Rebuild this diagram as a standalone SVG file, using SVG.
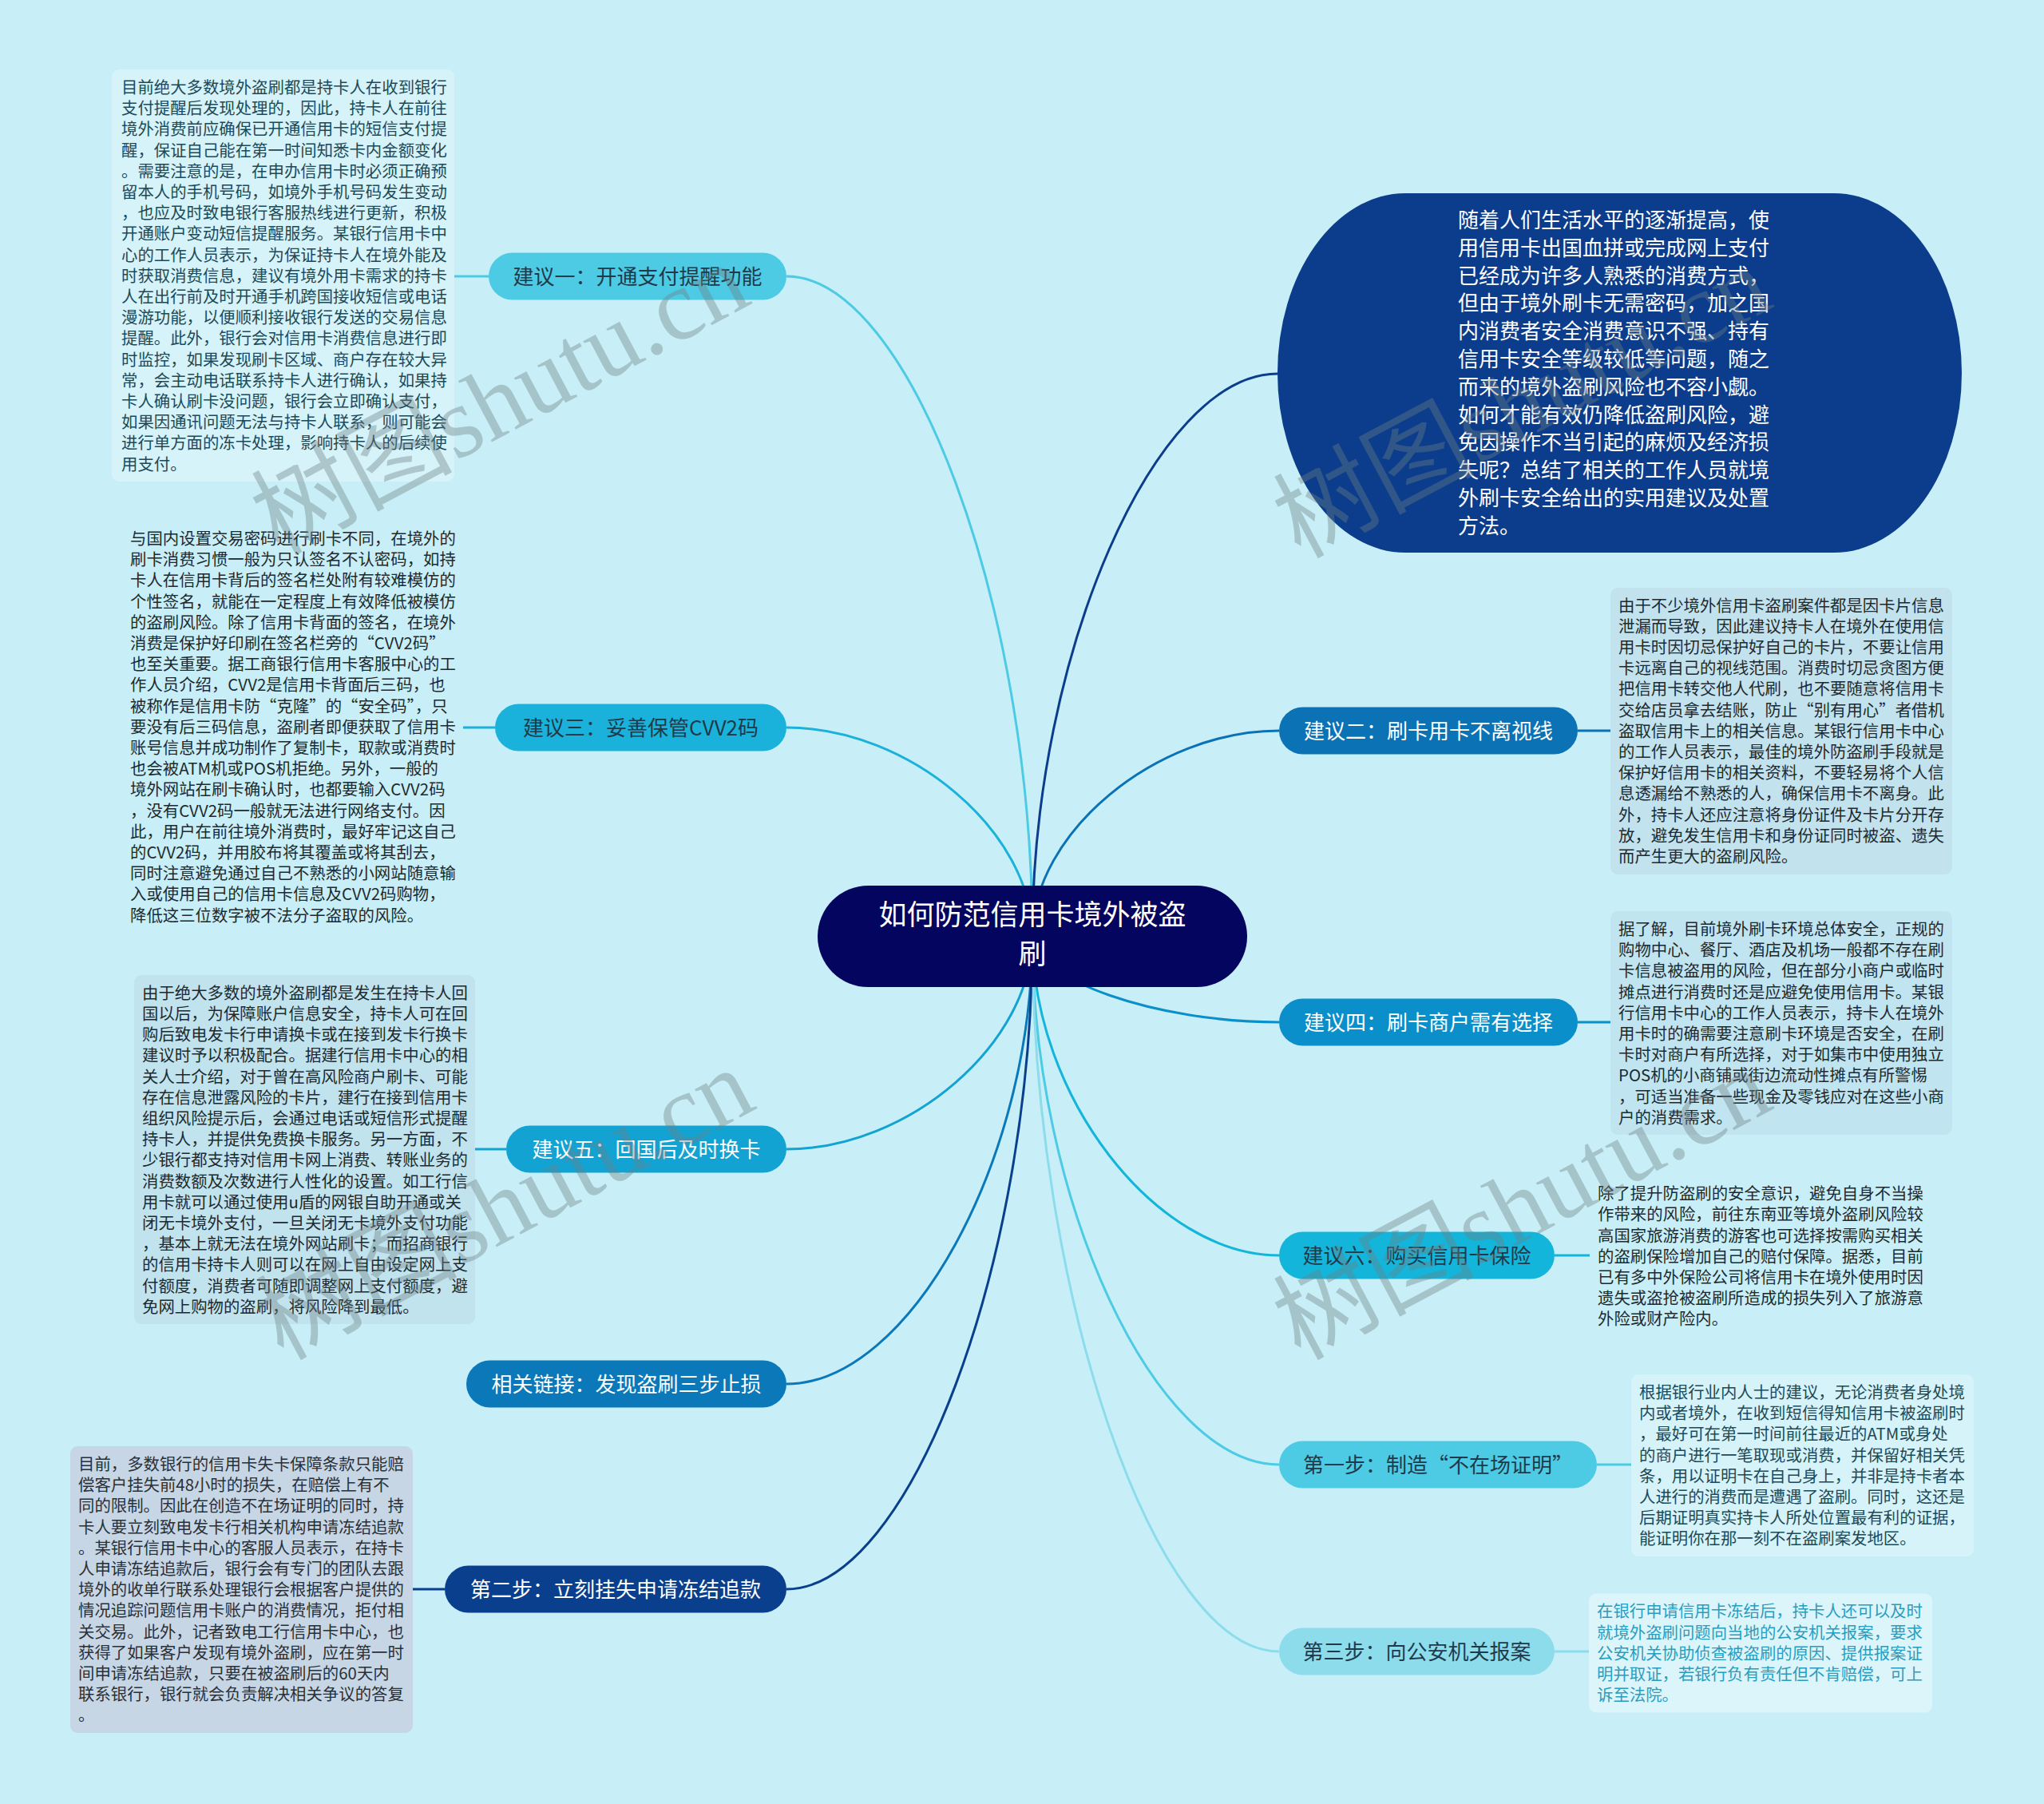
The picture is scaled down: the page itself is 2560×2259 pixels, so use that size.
<svg xmlns="http://www.w3.org/2000/svg" width="2560" height="2259" viewBox="0 0 2560 2259">
<style>
.t{font-family:"Noto Sans CJK SC","Noto Sans",sans-serif;}
.d{font-size:20.4px;}
.n{font-size:26px;text-anchor:middle;}
.dk{fill:#1f3a4a;}
.wh{fill:#ffffff;}
.c{fill:none;stroke-width:3;}
.s{fill:none;stroke-width:3;}
.wm{font-family:"Liberation Serif","Noto Sans CJK SC",serif;font-size:126px;fill:#6f7f84;opacity:0.38;}
</style>
<rect width="2560" height="2259" fill="#c8eff7"/>

<g id="connectors">
<path class="c" stroke="#4dcbe4" d="M1293,1172 C1293,759 1139,346 985,346"/>
<path class="c" stroke="#1ab2da" d="M1293,1172 C1293,1041.5 1139,911 985,911"/>
<path class="c" stroke="#13a3d3" d="M1293,1172 C1293,1305.5 1139,1439 985,1439"/>
<path class="c" stroke="#0b79b9" d="M1293,1172 C1293,1452.5 1139,1733 985,1733"/>
<path class="c" stroke="#0a3f8d" d="M1293,1172 C1293,1581 1139,1990 985,1990"/>
<path class="c" stroke="#0b3d8c" d="M1293,1172 C1293,820 1447,468 1600,468"/>
<path class="c" stroke="#0b72b6" d="M1293,1172 C1293,1043.5 1447,915 1602,915"/>
<path class="c" stroke="#0a8fca" d="M1293,1172 C1293,1226 1447,1280 1602,1280"/>
<path class="c" stroke="#14b5db" d="M1293,1172 C1293,1372 1447,1572 1602,1572"/>
<path class="c" stroke="#4dcbe4" d="M1293,1172 C1293,1503 1447,1834 1602,1834"/>
<path class="c" stroke="#8cdcec" d="M1293,1172 C1293,1620 1447,2068 1602,2068"/>
<path class="s" stroke="#4dcbe4" d="M569,346 H612"/>
<path class="s" stroke="#1ab2da" d="M580,911 H620"/>
<path class="s" stroke="#13a3d3" d="M595,1439 H634"/>
<path class="s" stroke="#0a3f8d" d="M517,1990 H557"/>
<path class="s" stroke="#0b72b6" d="M1976,915 H2017"/>
<path class="s" stroke="#0a8fca" d="M1976,1280 H2017"/>
<path class="s" stroke="#14b5db" d="M1947,1572 H1991"/>
<path class="s" stroke="#4dcbe4" d="M2000,1834 H2043"/>
<path class="s" stroke="#8cdcec" d="M1947,2068 H1990"/>
</g>

<g id="center">
<rect x="1024" y="1109" width="538" height="127" rx="63.5" fill="#03055e"/>
<text class="t wh" font-size="35" text-anchor="middle"><tspan x="1293" y="1158">如何防范信用卡境外被盗</tspan><tspan x="1293" y="1207">刷</tspan></text>
</g>

<g id="intro">
<rect x="1600" y="242" width="857" height="450" rx="160" ry="225" fill="#0b3d8c"/>
<text class="t wh" font-size="26"><tspan x="1826" y="285">随着人们生活水平的逐渐提高，使</tspan><tspan x="1826" dy="34.8">用信用卡出国血拼或完成网上支付</tspan><tspan x="1826" dy="34.8">已经成为许多人熟悉的消费方式，</tspan><tspan x="1826" dy="34.8">但由于境外刷卡无需密码，加之国</tspan><tspan x="1826" dy="34.8">内消费者安全消费意识不强、持有</tspan><tspan x="1826" dy="34.8">信用卡安全等级较低等问题，随之</tspan><tspan x="1826" dy="34.8">而来的境外盗刷风险也不容小觑。</tspan><tspan x="1826" dy="34.8">如何才能有效仍降低盗刷风险，避</tspan><tspan x="1826" dy="34.8">免因操作不当引起的麻烦及经济损</tspan><tspan x="1826" dy="34.8">失呢？总结了相关的工作人员就境</tspan><tspan x="1826" dy="34.8">外刷卡安全给出的实用建议及处置</tspan><tspan x="1826" dy="34.8">方法。</tspan></text>
</g>

<g id="n1">
<rect x="612" y="316.5" width="373" height="59" rx="29.5" fill="#4dcbe4"/>
<text class="t n dk" x="798.5" y="355.9">建议一：开通支付提醒功能</text>
</g>
<g id="n1d">
<rect x="140" y="87" width="429" height="516" rx="9" fill="#d5f3f9"/>
<text class="t d" fill="#1d4a58"><tspan x="152" y="117">目前绝大多数境外盗刷都是持卡人在收到银行</tspan><tspan x="152" dy="26.2">支付提醒后发现处理的，因此，持卡人在前往</tspan><tspan x="152" dy="26.2">境外消费前应确保已开通信用卡的短信支付提</tspan><tspan x="152" dy="26.2">醒，保证自己能在第一时间知悉卡内金额变化</tspan><tspan x="152" dy="26.2">。需要注意的是，在申办信用卡时必须正确预</tspan><tspan x="152" dy="26.2">留本人的手机号码，如境外手机号码发生变动</tspan><tspan x="152" dy="26.2">，也应及时致电银行客服热线进行更新，积极</tspan><tspan x="152" dy="26.2">开通账户变动短信提醒服务。某银行信用卡中</tspan><tspan x="152" dy="26.2">心的工作人员表示，为保证持卡人在境外能及</tspan><tspan x="152" dy="26.2">时获取消费信息，建议有境外用卡需求的持卡</tspan><tspan x="152" dy="26.2">人在出行前及时开通手机跨国接收短信或电话</tspan><tspan x="152" dy="26.2">漫游功能，以便顺利接收银行发送的交易信息</tspan><tspan x="152" dy="26.2">提醒。此外，银行会对信用卡消费信息进行即</tspan><tspan x="152" dy="26.2">时监控，如果发现刷卡区域、商户存在较大异</tspan><tspan x="152" dy="26.2">常，会主动电话联系持卡人进行确认，如果持</tspan><tspan x="152" dy="26.2">卡人确认刷卡没问题，银行会立即确认支付，</tspan><tspan x="152" dy="26.2">如果因通讯问题无法与持卡人联系，则可能会</tspan><tspan x="152" dy="26.2">进行单方面的冻卡处理，影响持卡人的后续使</tspan><tspan x="152" dy="26.2">用支付。</tspan></text>
</g>

<g id="n3">
<rect x="620" y="881.5" width="365" height="59" rx="29.5" fill="#1ab2da"/>
<text class="t n dk" x="802.5" y="920.9">建议三：妥善保管CVV2码</text>
</g>
<g id="n3d">
<text class="t d" fill="#1e2a2f"><tspan x="163" y="682">与国内设置交易密码进行刷卡不同，在境外的</tspan><tspan x="163" dy="26.2">刷卡消费习惯一般为只认签名不认密码，如持</tspan><tspan x="163" dy="26.2">卡人在信用卡背后的签名栏处附有较难模仿的</tspan><tspan x="163" dy="26.2">个性签名，就能在一定程度上有效降低被模仿</tspan><tspan x="163" dy="26.2">的盗刷风险。除了信用卡背面的签名，在境外</tspan><tspan x="163" dy="26.2">消费是保护好印刷在签名栏旁的“CVV2码”</tspan><tspan x="163" dy="26.2">也至关重要。据工商银行信用卡客服中心的工</tspan><tspan x="163" dy="26.2">作人员介绍，CVV2是信用卡背面后三码，也</tspan><tspan x="163" dy="26.2">被称作是信用卡防“克隆”的“安全码”，只</tspan><tspan x="163" dy="26.2">要没有后三码信息，盗刷者即便获取了信用卡</tspan><tspan x="163" dy="26.2">账号信息并成功制作了复制卡，取款或消费时</tspan><tspan x="163" dy="26.2">也会被ATM机或POS机拒绝。另外，一般的</tspan><tspan x="163" dy="26.2">境外网站在刷卡确认时，也都要输入CVV2码</tspan><tspan x="163" dy="26.2">，没有CVV2码一般就无法进行网络支付。因</tspan><tspan x="163" dy="26.2">此，用户在前往境外消费时，最好牢记这自己</tspan><tspan x="163" dy="26.2">的CVV2码，并用胶布将其覆盖或将其刮去，</tspan><tspan x="163" dy="26.2">同时注意避免通过自己不熟悉的小网站随意输</tspan><tspan x="163" dy="26.2">入或使用自己的信用卡信息及CVV2码购物，</tspan><tspan x="163" dy="26.2">降低这三位数字被不法分子盗取的风险。</tspan></text>
</g>

<g id="n5">
<rect x="634" y="1409.5" width="351" height="59" rx="29.5" fill="#13a3d3"/>
<text class="t n wh" x="809.5" y="1448.9">建议五：回国后及时换卡</text>
</g>
<g id="n5d">
<rect x="168" y="1221" width="427" height="437" rx="9" fill="#c0e3ee"/>
<text class="t d" fill="#1e2a2f"><tspan x="178" y="1250.8">由于绝大多数的境外盗刷都是发生在持卡人回</tspan><tspan x="178" dy="26.2">国以后，为保障账户信息安全，持卡人可在回</tspan><tspan x="178" dy="26.2">购后致电发卡行申请换卡或在接到发卡行换卡</tspan><tspan x="178" dy="26.2">建议时予以积极配合。据建行信用卡中心的相</tspan><tspan x="178" dy="26.2">关人士介绍，对于曾在高风险商户刷卡、可能</tspan><tspan x="178" dy="26.2">存在信息泄露风险的卡片，建行在接到信用卡</tspan><tspan x="178" dy="26.2">组织风险提示后，会通过电话或短信形式提醒</tspan><tspan x="178" dy="26.2">持卡人，并提供免费换卡服务。另一方面，不</tspan><tspan x="178" dy="26.2">少银行都支持对信用卡网上消费、转账业务的</tspan><tspan x="178" dy="26.2">消费数额及次数进行人性化的设置。如工行信</tspan><tspan x="178" dy="26.2">用卡就可以通过使用u盾的网银自助开通或关</tspan><tspan x="178" dy="26.2">闭无卡境外支付，一旦关闭无卡境外支付功能</tspan><tspan x="178" dy="26.2">，基本上就无法在境外网站刷卡；而招商银行</tspan><tspan x="178" dy="26.2">的信用卡持卡人则可以在网上自由设定网上支</tspan><tspan x="178" dy="26.2">付额度，消费者可随即调整网上支付额度，避</tspan><tspan x="178" dy="26.2">免网上购物的盗刷，将风险降到最低。</tspan></text>
</g>

<g id="link">
<rect x="584" y="1703.5" width="401" height="59" rx="29.5" fill="#0b79b9"/>
<text class="t n wh" x="784.5" y="1742.9">相关链接：发现盗刷三步止损</text>
</g>

<g id="step2">
<rect x="557" y="1960.5" width="428" height="59" rx="29.5" fill="#0a3f8d"/>
<text class="t n wh" x="771" y="1999.9">第二步：立刻挂失申请冻结追款</text>
</g>
<g id="step2d">
<rect x="88" y="1811" width="429" height="359" rx="9" fill="#c7d6e5"/>
<text class="t d" fill="#2a3038"><tspan x="98" y="1841">目前，多数银行的信用卡失卡保障条款只能赔</tspan><tspan x="98" dy="26.2">偿客户挂失前48小时的损失，在赔偿上有不</tspan><tspan x="98" dy="26.2">同的限制。因此在创造不在场证明的同时，持</tspan><tspan x="98" dy="26.2">卡人要立刻致电发卡行相关机构申请冻结追款</tspan><tspan x="98" dy="26.2">。某银行信用卡中心的客服人员表示，在持卡</tspan><tspan x="98" dy="26.2">人申请冻结追款后，银行会有专门的团队去跟</tspan><tspan x="98" dy="26.2">境外的收单行联系处理银行会根据客户提供的</tspan><tspan x="98" dy="26.2">情况追踪问题信用卡账户的消费情况，拒付相</tspan><tspan x="98" dy="26.2">关交易。此外，记者致电工行信用卡中心，也</tspan><tspan x="98" dy="26.2">获得了如果客户发现有境外盗刷，应在第一时</tspan><tspan x="98" dy="26.2">间申请冻结追款，只要在被盗刷后的60天内</tspan><tspan x="98" dy="26.2">联系银行，银行就会负责解决相关争议的答复</tspan><tspan x="98" dy="26.2">。</tspan></text>
</g>

<g id="n2">
<rect x="1602" y="885.5" width="374" height="59" rx="29.5" fill="#0b72b6"/>
<text class="t n wh" x="1789" y="924.9">建议二：刷卡用卡不离视线</text>
</g>
<g id="n2d">
<rect x="2017" y="736" width="428" height="359" rx="9" fill="#c2e2ee"/>
<text class="t d" fill="#1e2a2f"><tspan x="2027" y="765.5">由于不少境外信用卡盗刷案件都是因卡片信息</tspan><tspan x="2027" dy="26.2">泄漏而导致，因此建议持卡人在境外在使用信</tspan><tspan x="2027" dy="26.2">用卡时因切忌保护好自己的卡片，不要让信用</tspan><tspan x="2027" dy="26.2">卡远离自己的视线范围。消费时切忌贪图方便</tspan><tspan x="2027" dy="26.2">把信用卡转交他人代刷，也不要随意将信用卡</tspan><tspan x="2027" dy="26.2">交给店员拿去结账，防止“别有用心”者借机</tspan><tspan x="2027" dy="26.2">盗取信用卡上的相关信息。某银行信用卡中心</tspan><tspan x="2027" dy="26.2">的工作人员表示，最佳的境外防盗刷手段就是</tspan><tspan x="2027" dy="26.2">保护好信用卡的相关资料，不要轻易将个人信</tspan><tspan x="2027" dy="26.2">息透漏给不熟悉的人，确保信用卡不离身。此</tspan><tspan x="2027" dy="26.2">外，持卡人还应注意将身份证件及卡片分开存</tspan><tspan x="2027" dy="26.2">放，避免发生信用卡和身份证同时被盗、遗失</tspan><tspan x="2027" dy="26.2">而产生更大的盗刷风险。</tspan></text>
</g>

<g id="n4">
<rect x="1602" y="1250.5" width="374" height="59" rx="29.5" fill="#0a8fca"/>
<text class="t n wh" x="1789" y="1289.9">建议四：刷卡商户需有选择</text>
</g>
<g id="n4d">
<rect x="2017" y="1141" width="428" height="280" rx="9" fill="#c0e5f0"/>
<text class="t d" fill="#1e2a2f"><tspan x="2027" y="1170.9">据了解，目前境外刷卡环境总体安全，正规的</tspan><tspan x="2027" dy="26.2">购物中心、餐厅、酒店及机场一般都不存在刷</tspan><tspan x="2027" dy="26.2">卡信息被盗用的风险，但在部分小商户或临时</tspan><tspan x="2027" dy="26.2">摊点进行消费时还是应避免使用信用卡。某银</tspan><tspan x="2027" dy="26.2">行信用卡中心的工作人员表示，持卡人在境外</tspan><tspan x="2027" dy="26.2">用卡时的确需要注意刷卡环境是否安全，在刷</tspan><tspan x="2027" dy="26.2">卡时对商户有所选择，对于如集市中使用独立</tspan><tspan x="2027" dy="26.2">POS机的小商铺或街边流动性摊点有所警惕</tspan><tspan x="2027" dy="26.2">，可适当准备一些现金及零钱应对在这些小商</tspan><tspan x="2027" dy="26.2">户的消费需求。</tspan></text>
</g>

<g id="n6">
<rect x="1602" y="1542.5" width="345" height="59" rx="29.5" fill="#14b5db"/>
<text class="t n dk" x="1774.5" y="1581.9">建议六：购买信用卡保险</text>
</g>
<g id="n6d">
<text class="t d" fill="#1e2a2f"><tspan x="2001" y="1502.1">除了提升防盗刷的安全意识，避免自身不当操</tspan><tspan x="2001" dy="26.2">作带来的风险，前往东南亚等境外盗刷风险较</tspan><tspan x="2001" dy="26.2">高国家旅游消费的游客也可选择按需购买相关</tspan><tspan x="2001" dy="26.2">的盗刷保险增加自己的赔付保障。据悉，目前</tspan><tspan x="2001" dy="26.2">已有多中外保险公司将信用卡在境外使用时因</tspan><tspan x="2001" dy="26.2">遗失或盗抢被盗刷所造成的损失列入了旅游意</tspan><tspan x="2001" dy="26.2">外险或财产险内。</tspan></text>
</g>

<g id="step1">
<rect x="1602" y="1804.5" width="398" height="59" rx="29.5" fill="#4dcbe4"/>
<text class="t n dk" x="1801" y="1843.9">第一步：制造“不在场证明”</text>
</g>
<g id="step1d">
<rect x="2043" y="1721" width="429" height="228" rx="9" fill="#d5f3f9"/>
<text class="t d" fill="#1d4a58"><tspan x="2053" y="1751">根据银行业内人士的建议，无论消费者身处境</tspan><tspan x="2053" dy="26.2">内或者境外，在收到短信得知信用卡被盗刷时</tspan><tspan x="2053" dy="26.2">，最好可在第一时间前往最近的ATM或身处</tspan><tspan x="2053" dy="26.2">的商户进行一笔取现或消费，并保留好相关凭</tspan><tspan x="2053" dy="26.2">条，用以证明卡在自己身上，并非是持卡者本</tspan><tspan x="2053" dy="26.2">人进行的消费而是遭遇了盗刷。同时，这还是</tspan><tspan x="2053" dy="26.2">后期证明真实持卡人所处位置最有利的证据，</tspan><tspan x="2053" dy="26.2">能证明你在那一刻不在盗刷案发地区。</tspan></text>
</g>

<g id="step3">
<rect x="1602" y="2038.5" width="345" height="59" rx="29.5" fill="#8cdcec"/>
<text class="t n dk" x="1774.5" y="2077.9">第三步：向公安机关报案</text>
</g>
<g id="step3d">
<rect x="1990" y="1995.5" width="430" height="149" rx="9" fill="#dbf5fb"/>
<text class="t d" fill="#2a9dbf"><tspan x="2000" y="2025.4">在银行申请信用卡冻结后，持卡人还可以及时</tspan><tspan x="2000" dy="26.2">就境外盗刷问题向当地的公安机关报案，要求</tspan><tspan x="2000" dy="26.2">公安机关协助侦查被盗刷的原因、提供报案证</tspan><tspan x="2000" dy="26.2">明并取证，若银行负有责任但不肯赔偿，可上</tspan><tspan x="2000" dy="26.2">诉至法院。</tspan></text>
</g>

<g id="watermarks">
<text class="wm" transform="translate(348,696) rotate(-28)">树图shutu.cn</text>
<text class="wm" transform="translate(354,1704) rotate(-28)">树图shutu.cn</text>
<text class="wm" transform="translate(1628,700) rotate(-28)">树图shutu.cn</text>
<text class="wm" transform="translate(1628,1704) rotate(-28)">树图shutu.cn</text>
</g>
</svg>
